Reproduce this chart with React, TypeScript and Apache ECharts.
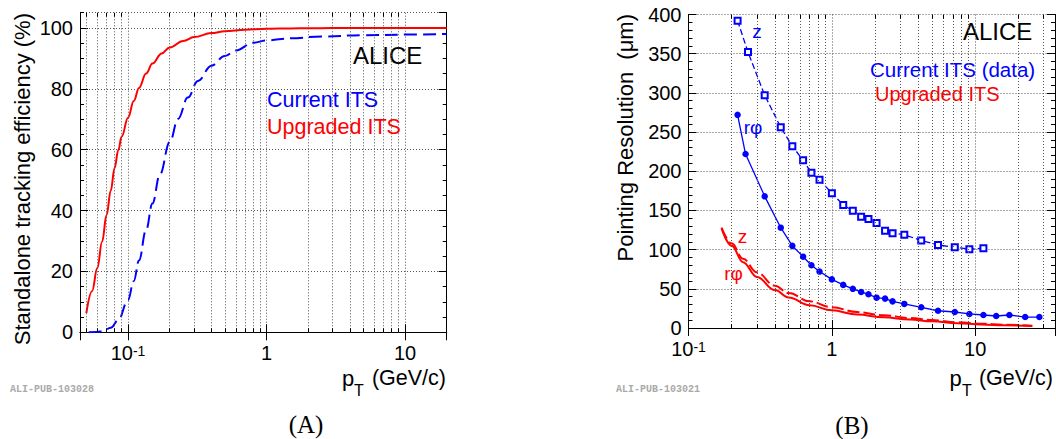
import React, { useEffect, useRef } from "react";
import * as echarts from "echarts";

// ---------- Panel A: standalone tracking efficiency (%) vs pT (GeV/c) ----------
const EFF_UPG_PT = [0.05, 0.055, 0.06, 0.065, 0.07, 0.075, 0.08, 0.085, 0.09, 0.1, 0.11, 0.12, 0.135, 0.15, 0.175, 0.2, 0.25, 0.3, 0.4, 0.5, 0.7, 1, 1.5, 2, 3, 5, 10, 20];
const EFF_UPG = [6.3, 13.5, 21.1, 29.8, 38.5, 46.5, 54, 59.8, 64.3, 70.5, 76, 80.3, 85, 88.3, 91.6, 93.6, 95.7, 97, 98.3, 98.9, 99.4, 99.7, 99.85, 99.9, 99.95, 100, 100, 100];
const EFF_CUR_PT = [0.052, 0.06, 0.066, 0.075, 0.085, 0.1, 0.11, 0.12, 0.135, 0.15, 0.17, 0.2, 0.23, 0.27, 0.32, 0.4, 0.5, 0.6, 0.8, 1, 1.5, 2.5, 5, 10, 20];
const EFF_CUR = [0, 0.1, 0.4, 1.5, 4, 10.6, 16.8, 23.6, 33.6, 42.3, 51.9, 62.5, 70.1, 77.1, 82.6, 87.6, 90.8, 92.6, 95.1, 95.9, 96.6, 97.2, 97.6, 97.8, 98];

// ---------- Panel B: pointing resolution (um) vs pT (GeV/c) ----------
const CUR_Z_PT = [0.22, 0.26, 0.34, 0.44, 0.53, 0.63, 0.72, 0.82, 1.0, 1.2, 1.4, 1.6, 1.8, 2.05, 2.35, 2.65, 3.2, 4.2, 5.5, 7.2, 9.1, 11.4];
const CUR_Z = [392, 352, 297, 256, 232, 214, 198, 189, 172, 157, 149.5, 142, 139, 134, 124, 121, 119, 111.6, 106, 103, 100.6, 101.8];
const CUR_RPHI_PT = [0.22, 0.25, 0.34, 0.44, 0.53, 0.63, 0.72, 0.82, 1.0, 1.2, 1.4, 1.6, 1.8, 2.05, 2.35, 2.65, 3.2, 4.2, 5.5, 7.2, 9.1, 11.4, 14, 17.3, 22.3, 28];
const CUR_RPHI = [272, 222, 168, 128, 104.8, 91, 80, 72, 62, 55, 50, 46, 43, 38.7, 37.5, 34, 30.7, 26.4, 22, 20.4, 17.9, 16.6, 15.3, 16.6, 14, 14];
const UPG_PT = [0.17, 0.2, 0.24, 0.3, 0.4, 0.5, 0.7, 1, 1.5, 2.3, 3.5, 5, 7.5, 11, 16, 25];
const UPG_RPHI = [127, 105, 84, 65, 48.5, 39, 29, 22.5, 17.2, 13.6, 10.8, 8.5, 6.2, 4.5, 3.4, 2.5];
const UPG_Z = [128, 108, 88.5, 71, 54, 44.5, 34, 26.5, 20.3, 16.2, 12.8, 10.1, 7.4, 5.5, 4.1, 3];

// ---------- axes ----------
const A_X_MIN = 0.045, A_X_MAX = 20, A_Y_MIN = 0, A_Y_MAX = 105, A_Y_STEP = 20, A_Y_MINOR = 5;
const B_X_MIN = 0.1, B_X_MAX = 36, B_Y_MIN = 0, B_Y_MAX = 400, B_Y_STEP = 50;
const DECADES = [0.01, 0.1, 1, 10];
const MINOR_MULT = [2, 3, 4, 5, 6, 7, 8, 9];

const GA = { left: 80, top: 12.7, width: 366.7, height: 319.6 };
const GB = { left: 688.5, top: 14.5, width: 366.5, height: 313.5 };

const SANS = "'Liberation Sans', Arial, Helvetica, sans-serif";
const MONO = "'Liberation Mono', 'DejaVu Sans Mono', monospace";
const SERIF = "'Liberation Serif', 'Times New Roman', serif";
const RED = "#ff0000";
const BLUE = "#0000ff";
const GRID_STYLE = { color: "#555", width: 1, type: [1, 2] as any };

function minorVals(min: number, max: number): number[] {
  const out: number[] = [];
  DECADES.forEach((d) =>
    MINOR_MULT.forEach((m) => {
      const v = +(d * m).toPrecision(6);
      if (v > min && v < max) out.push(v);
    })
  );
  return out;
}

function powLabel(v: number): string {
  const l = Math.log10(v);
  const r = Math.round(l);
  if (Math.abs(l - r) > 1e-6) return "";
  if (r === 0) return "{b|1}";
  if (r === 1) return "{b|10}";
  return "{b|10}{s|" + r + "}";
}

const richPow = {
  b: { fontSize: 20, fontFamily: SANS, color: "#000", lineHeight: 18, verticalAlign: "middle" },
  s: { fontSize: 14, fontFamily: SANS, color: "#000", lineHeight: 12, verticalAlign: "top" },
};

function xAxes(gridIndex: number, min: number, max: number) {
  const common = {
    gridIndex,
    type: "log",
    logBase: 10,
    min,
    max,
    axisLine: { show: true, lineStyle: { color: "#000", width: 1 } },
    axisTick: { show: true, inside: true, length: 8, lineStyle: { color: "#000", width: 1 } },
    minorTick: { show: false },
    minorSplitLine: { show: false },
  };
  return [
    {
      ...common,
      position: "bottom",
      axisLabel: { show: true, formatter: powLabel, rich: richPow, margin: 12, fontSize: 20, fontFamily: SANS, color: "#000", showMinLabel: true, showMaxLabel: true, hideOverlap: false },
      splitLine: { show: true, lineStyle: GRID_STYLE },
    },
    { ...common, position: "top", axisLabel: { show: false }, splitLine: { show: false } },
  ];
}

function yAxis(gridIndex: number, position: string, min: number, max: number, interval: number, len: number, labels: boolean, split: boolean, minorSplit?: number) {
  return {
    gridIndex,
    type: "value",
    position,
    min,
    max,
    interval,
    axisLine: { show: true, lineStyle: { color: "#000", width: 1 } },
    axisTick: { show: true, inside: true, length: len, lineStyle: { color: "#000", width: 1 } },
    minorTick: minorSplit ? { show: true, splitNumber: minorSplit, length: 4, lineStyle: { color: "#000", width: 1 } } : { show: false },
    axisLabel: labels
      ? {
          show: true,
          margin: 7,
          fontSize: 20,
          fontFamily: SANS,
          color: "#000",
          formatter: (v: number) => (Math.abs(v / interval - Math.round(v / interval)) < 1e-9 ? String(v) : ""),
          showMaxLabel: max % interval === 0,
        }
      : { show: false },
    splitLine: { show: split, lineStyle: GRID_STYLE },
  };
}

function gridLineSeries(xi: number, yi: number, xmin: number, xmax: number) {
  return {
    type: "line",
    xAxisIndex: xi,
    yAxisIndex: yi,
    data: [],
    silent: true,
    z: 1,
    markLine: {
      silent: true,
      symbol: ["none", "none"],
      label: { show: false },
      emphasis: { disabled: true },
      lineStyle: GRID_STYLE,
      data: minorVals(xmin, xmax).map((v) => ({ xAxis: v })),
    },
  };
}

function tickSeries(xi: number, yi: number, xmin: number, xmax: number, ymin: number, ymax: number, hpx: number) {
  const len = (4 * (ymax - ymin)) / hpx;
  const data: any[] = [];
  minorVals(xmin, xmax).forEach((v) => {
    data.push([{ coord: [v, ymin] }, { coord: [v, ymin + len] }]);
    data.push([{ coord: [v, ymax] }, { coord: [v, ymax - len] }]);
  });
  return {
    type: "line",
    xAxisIndex: xi,
    yAxisIndex: yi,
    data: [],
    silent: true,
    z: 3,
    markLine: {
      silent: true,
      symbol: ["none", "none"],
      label: { show: false },
      emphasis: { disabled: true },
      lineStyle: { color: "#000", width: 1, type: "solid" },
      data,
    },
  };
}

const zip = (xs: number[], ys: number[]) => xs.map((x, i) => [x, ys[i]]);

function txt(text: string, x: number, y: number, o: any = {}) {
  return {
    type: "text",
    x,
    y,
    rotation: o.rotation || 0,
    silent: true,
    style: {
      text,
      fill: o.fill || "#000",
      fontSize: o.fontSize || 20,
      fontFamily: o.fontFamily || SANS,
      fontWeight: o.fontWeight || "normal",
      lineHeight: o.lineHeight,
      textAlign: o.align || "left",
      align: o.align || "left",
      verticalAlign: "middle",
      textVerticalAlign: "middle",
    },
  };
}

export default function App() {
  const ref = useRef<HTMLDivElement>(null);
  useEffect(() => {
    document.body.style.margin = "0";
    if (!ref.current) return;
    const chart = echarts.init(ref.current, null, { renderer: "svg" });
    const smoothLine = (name: string, xi: number, yi: number, xs: number[], ys: number[], color: string, type: any) => ({
      name,
      type: "line",
      xAxisIndex: xi,
      yAxisIndex: yi,
      data: zip(xs, ys),
      showSymbol: false,
      smooth: 0.4,
      smoothMonotone: "x",
      silent: true,
      lineStyle: { color, width: 2, type },
    });
    const option: any = {
      animation: false,
      backgroundColor: "#fff",
      grid: [
        { ...GA, containLabel: false, outerBoundsMode: "none" },
        { ...GB, containLabel: false, outerBoundsMode: "none" },
      ],
      xAxis: [...xAxes(0, A_X_MIN, A_X_MAX), ...xAxes(1, B_X_MIN, B_X_MAX)],
      yAxis: [
        yAxis(0, "left", A_Y_MIN, A_Y_MAX, A_Y_STEP, 8, true, true),
        yAxis(0, "left", A_Y_MIN, A_Y_MAX, A_Y_MINOR, 4, false, false),
        yAxis(0, "right", A_Y_MIN, A_Y_MAX, A_Y_STEP, 8, false, false),
        yAxis(0, "right", A_Y_MIN, A_Y_MAX, A_Y_MINOR, 4, false, false),
        yAxis(1, "left", B_Y_MIN, B_Y_MAX, B_Y_STEP, 8, true, true, 5),
        yAxis(1, "right", B_Y_MIN, B_Y_MAX, B_Y_STEP, 8, false, false, 5),
      ],
      series: [
        gridLineSeries(0, 0, A_X_MIN, A_X_MAX),
        tickSeries(0, 0, A_X_MIN, A_X_MAX, A_Y_MIN, A_Y_MAX, GA.height),
        gridLineSeries(2, 4, B_X_MIN, B_X_MAX),
        tickSeries(2, 4, B_X_MIN, B_X_MAX, B_Y_MIN, B_Y_MAX, GB.height),
        smoothLine("Current ITS", 0, 0, EFF_CUR_PT, EFF_CUR, BLUE, [13, 6]),
        smoothLine("Upgraded ITS", 0, 0, EFF_UPG_PT, EFF_UPG, RED, "solid"),
        smoothLine("Upgraded ITS z", 2, 4, UPG_PT, UPG_Z, RED, [12, 4]),
        smoothLine("Upgraded ITS rphi", 2, 4, UPG_PT, UPG_RPHI, RED, "solid"),
        {
          name: "Current ITS z",
          type: "line",
          xAxisIndex: 2,
          yAxisIndex: 4,
          data: zip(CUR_Z_PT, CUR_Z),
          showSymbol: true,
          symbol: "emptyRect",
          symbolSize: 6,
          silent: true,
          itemStyle: { color: BLUE, borderColor: BLUE, borderWidth: 1.3 },
          lineStyle: { color: BLUE, width: 1.3, type: [6, 3] },
        },
        {
          name: "Current ITS rphi",
          type: "line",
          xAxisIndex: 2,
          yAxisIndex: 4,
          data: zip(CUR_RPHI_PT, CUR_RPHI),
          showSymbol: true,
          symbol: "circle",
          symbolSize: 6.5,
          silent: true,
          itemStyle: { color: BLUE },
          lineStyle: { color: BLUE, width: 1.3 },
        },
      ],
      graphic: [
        txt("Standalone tracking efficiency (%)", 22, 13, { rotation: Math.PI / 2, align: "right", fontSize: 22 }),
        txt("Pointing Resolution  (\u03bcm)", 625.5, 14, { rotation: Math.PI / 2, align: "right", fontSize: 22 }),
        txt("ALICE", 353, 55, { fontSize: 24 }),
        txt("Current ITS", 267, 100, { fontSize: 21.5, fill: BLUE }),
        txt("Upgraded ITS", 267, 127, { fontSize: 21.5, fill: RED }),
        txt("ALICE", 963, 31, { fontSize: 24 }),
        txt("Current ITS (data)", 870, 69, { fontSize: 20.5, fill: BLUE }),
        txt("Upgraded ITS", 875, 94, { fontSize: 20, fill: RED }),
        txt("z", 757, 31, { fontSize: 19, fill: BLUE, align: "center" }),
        txt("r\u03c6", 753, 127, { fontSize: 19, fill: BLUE, align: "center" }),
        txt("z", 742.5, 236, { fontSize: 19, fill: RED, align: "center" }),
        txt("r\u03c6", 733.5, 273, { fontSize: 19, fill: RED, align: "center" }),
        txt("p", 342, 378, { fontSize: 22, lineHeight: 18 }),
        txt("T", 354, 390, { fontSize: 16, lineHeight: 14 }),
        txt("(GeV/c)", 446, 378, { fontSize: 21.5, align: "right", lineHeight: 18 }),
        txt("p", 949.5, 378, { fontSize: 22, lineHeight: 18 }),
        txt("T", 962, 390, { fontSize: 16, lineHeight: 14 }),
        txt("(GeV/c)", 1053, 378, { fontSize: 21.5, align: "right", lineHeight: 18 }),
        txt("ALI-PUB-103028", 10, 389.5, { fontSize: 10, fontFamily: MONO, fontWeight: "bold", fill: "#aaa" }),
        txt("ALI-PUB-103021", 616, 389, { fontSize: 10, fontFamily: MONO, fontWeight: "bold", fill: "#aaa" }),
        txt("(A)", 306, 424, { fontSize: 25, fontFamily: SERIF, align: "center" }),
        txt("(B)", 852, 425, { fontSize: 25, fontFamily: SERIF, align: "center" }),
      ],
    };
    chart.setOption(option);
    return () => chart.dispose();
  }, []);
  return <div ref={ref} style={{ width: 1056, height: 439 }} />;
}
